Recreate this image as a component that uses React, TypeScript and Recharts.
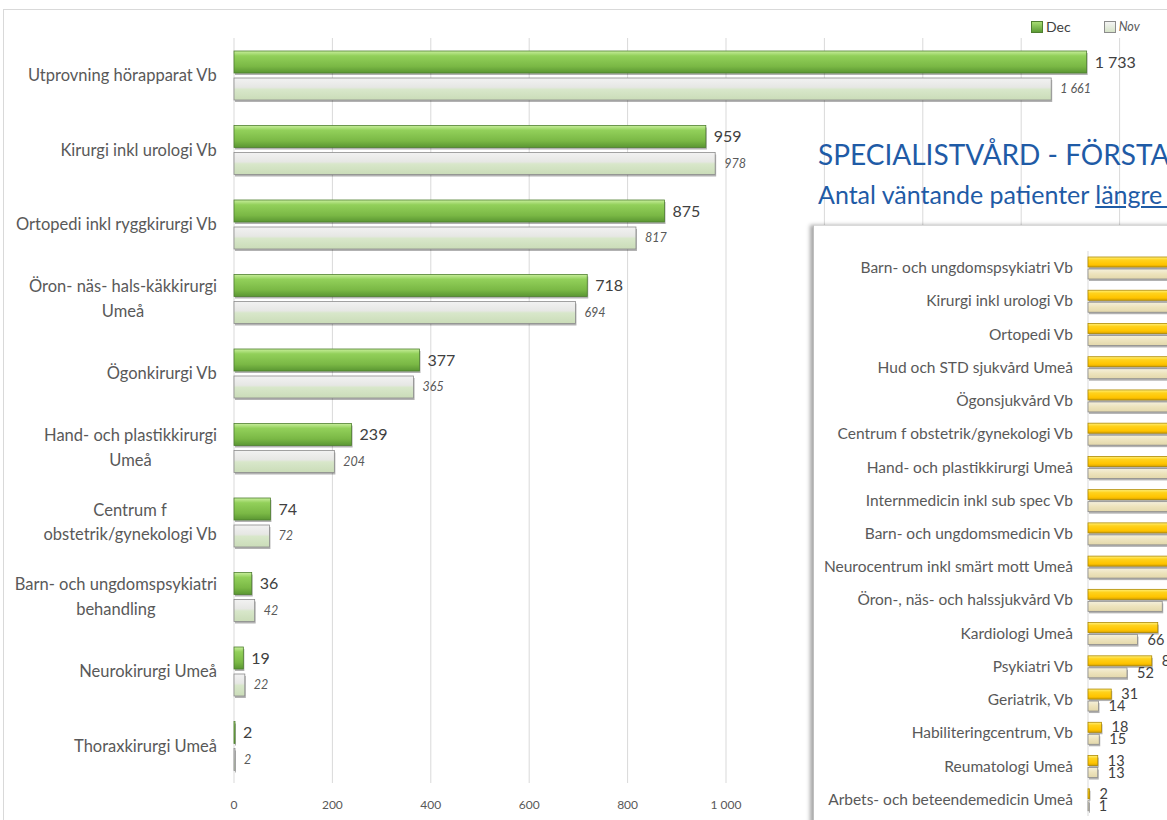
import React from "react";
import { BarChart, Bar, XAxis, YAxis, CartesianGrid, LabelList } from "recharts";

const mainCategories = [
  "Utprovning hörapparat Vb",
  "Kirurgi inkl urologi Vb",
  "Ortopedi inkl ryggkirurgi Vb",
  "Öron- näs- hals-käkkirurgi\nUmeå",
  "Ögonkirurgi Vb",
  "Hand- och plastikkirurgi\nUmeå",
  "Centrum f\nobstetrik/gynekologi Vb",
  "Barn- och ungdomspsykiatri\nbehandling",
  "Neurokirurgi Umeå",
  "Thoraxkirurgi Umeå",
];
const mainDec = [1733, 959, 875, 718, 377, 239, 74, 36, 19, 2];
const mainNov = [1661, 978, 817, 694, 365, 204, 72, 42, 22, 2];
const mainTicks = [0, 200, 400, 600, 800, 1000, 1200, 1400, 1600, 1800, 2000];

const sideCategories = [
  "Barn- och ungdomspsykiatri Vb",
  "Kirurgi inkl urologi Vb",
  "Ortopedi Vb",
  "Hud och STD sjukvård Umeå",
  "Ögonsjukvård Vb",
  "Centrum f obstetrik/gynekologi Vb",
  "Hand- och plastikkirurgi Umeå",
  "Internmedicin inkl sub spec Vb",
  "Barn- och ungdomsmedicin Vb",
  "Neurocentrum inkl smärt mott Umeå",
  "Öron-, näs- och halssjukvård Vb",
  "Kardiologi Umeå",
  "Psykiatri Vb",
  "Geriatrik, Vb",
  "Habiliteringcentrum, Vb",
  "Reumatologi Umeå",
  "Arbets- och beteendemedicin Umeå",
];
const sideDec = [520, 470, 430, 390, 350, 310, 280, 240, 200, 160, 118, 93, 85, 31, 18, 13, 2];
const sideNov = [500, 450, 420, 370, 330, 300, 260, 230, 190, 150, 99, 66, 52, 14, 15, 13, 1];
const sideTicks = [0, 100, 200, 300, 400, 500, 600];

const mainData = mainCategories.map((name, i) => ({ name, dec: mainDec[i], nov: mainNov[i] }));
const sideData = sideCategories.map((name, i) => ({ name, dec: sideDec[i], nov: sideNov[i] }));

const FONT = "Lato, 'Noto Sans', sans-serif";

const fmt = (v: any) => String(v).replace(/\B(?=(\d{3})+(?!\d))/g, " ");
// ticks past 1 000 sit under the second chart, so they get no text
const axisFmt = (v: any) => (Number(v) > 1000 ? "" : fmt(v));

let ctx: CanvasRenderingContext2D | null = null;
function measure(text: string, font: string) {
  if (!ctx) ctx = document.createElement("canvas").getContext("2d");
  if (!ctx) return text.length * 7;
  ctx.font = font;
  return ctx.measureText(text).width;
}

const MainTick = (props: any) => {
  const { x, y, payload } = props;
  const lines = String(payload.value).split("\n");
  const block = Math.max(...lines.map((l) => measure(l, "16.5px Lato")));
  const cx = x - block / 2;
  const lh = 24.5;
  const start = y - ((lines.length - 1) * lh) / 2;
  return (
    <text textAnchor="middle" fill="#595959" fontSize={16.5} fontFamily={FONT}>
      {lines.map((l, i) => (
        <tspan key={i} x={cx} y={start + i * lh} dy="0.35em">
          {l}
        </tspan>
      ))}
    </text>
  );
};

const Bar3D = (props: any) => {
  const { x, y, width, height, fill, stroke } = props;
  const w = Math.max(width, 1);
  return (
    <g>
      <rect x={x + 1} y={y + 2} width={w} height={height} fill="rgba(0,0,0,0.3)" />
      <rect x={x} y={y} width={w} height={height} fill={fill} stroke={stroke} strokeWidth={0.8} />
    </g>
  );
};

export default function App() {
  return (
    <div
      style={{
        position: "absolute",
        left: 0,
        top: 0,
        width: 1167,
        height: 820,
        overflow: "hidden",
        background: "#fff",
        fontFamily: FONT,
      }}
    >
      <div
        style={{
          position: "absolute",
          left: 3,
          top: 9,
          width: 1300,
          height: 900,
          border: "1px solid #d9d9d9",
        }}
      />
      <div style={{ position: "absolute", left: 0, top: 0 }}>
        <BarChart
          width={1240}
          height={830}
          data={mainData}
          layout="vertical"
          margin={{ top: 38, right: 22, bottom: 17, left: 0 }}
          barSize={22}
          barGap={5}
        >
          <defs>
            <linearGradient id="gDec" x1="0" y1="0" x2="0" y2="1">
              <stop offset="0%" stopColor="#c8ee9c" />
              <stop offset="22%" stopColor="#92d05a" />
              <stop offset="70%" stopColor="#7ab845" />
              <stop offset="100%" stopColor="#5a9632" />
            </linearGradient>
            <linearGradient id="gNov" x1="0" y1="0" x2="0" y2="1">
              <stop offset="0%" stopColor="#f2f2f2" />
              <stop offset="42%" stopColor="#e6e7e4" />
              <stop offset="52%" stopColor="#d8e7ca" />
              <stop offset="100%" stopColor="#cadcb8" />
            </linearGradient>
          </defs>
          <CartesianGrid horizontal={false} stroke="#d9d9d9" />
          <XAxis
            type="number"
            domain={[0, 2000]}
            ticks={mainTicks}
            tickFormatter={axisFmt}
            axisLine={false}
            tickLine={false}
            tickSize={0}
            tickMargin={17}
            height={30}
            tick={{ fill: "#595959", fontSize: 12, fontFamily: FONT }}
          />
          <YAxis
            type="category"
            dataKey="name"
            width={234}
            axisLine={false}
            tickLine={false}
            tickSize={0}
            tickMargin={17}
            interval={0}
            tick={<MainTick />}
          />
          <Bar dataKey="dec" fill="url(#gDec)" stroke="#4f7f30" shape={<Bar3D />} isAnimationActive={false}>
            <LabelList
              dataKey="dec"
              position="right"
              offset={8}
              formatter={fmt}
              fill="#404040"
              fontSize={16}
              fontFamily={FONT}
            />
          </Bar>
          <Bar dataKey="nov" fill="url(#gNov)" stroke="#8c8c8c" shape={<Bar3D />} isAnimationActive={false}>
            <LabelList
              dataKey="nov"
              position="right"
              offset={9}
              formatter={fmt}
              fill="#595959"
              fontSize={12.5}
              fontStyle="italic"
              fontFamily={FONT}
            />
          </Bar>
        </BarChart>
      </div>

      {/* legend */}
      <div style={{ position: "absolute", left: 1031, top: 18, display: "flex", alignItems: "center", fontSize: 14, color: "#404040" }}>
        <span
          style={{
            display: "inline-block",
            width: 10,
            height: 10,
            background: "linear-gradient(#a6dc72, #5c9c34)",
            border: "1px solid #4f7f30",
            marginRight: 3,
          }}
        />
        <span>Dec</span>
        <span
          style={{
            display: "inline-block",
            width: 10,
            height: 10,
            background: "linear-gradient(#f4f4f4, #d6e3c8)",
            border: "1px solid #8c8c8c",
            marginLeft: 33,
            marginRight: 3,
          }}
        />
        <span style={{ fontStyle: "italic", fontSize: 12.5, color: "#595959" }}>Nov</span>
      </div>

      {/* side chart title */}
      <div style={{ position: "absolute", left: 818, top: 137, color: "#1f5ba6", fontSize: 28, whiteSpace: "nowrap" }}>
        SPECIALISTVÅRD - FÖRSTA BESÖK
      </div>
      <div style={{ position: "absolute", left: 818, top: 179, color: "#1f5ba6", fontSize: 25, whiteSpace: "nowrap" }}>
        Antal väntande patienter <span style={{ textDecoration: "underline" }}>längre än 90 dagar</span>
      </div>

      {/* side chart */}
      <div
        style={{
          position: "absolute",
          left: 813,
          top: 225,
          width: 500,
          height: 700,
          background: "#fff",
          borderLeft: "1px solid #bfbfbf",
          borderTop: "1px solid #d9d9d9",
          boxShadow: "-3px 0 4px rgba(0,0,0,0.35)",
        }}
      >
        <BarChart
          width={734}
          height={630}
          data={sideData}
          layout="vertical"
          margin={{ top: 25, right: 10, bottom: 10, left: 0 }}
          barSize={10}
          barGap={2}
        >
          <defs>
            <linearGradient id="gYel" x1="0" y1="0" x2="0" y2="1">
              <stop offset="0%" stopColor="#fff07a" />
              <stop offset="30%" stopColor="#ffd21c" />
              <stop offset="75%" stopColor="#ffc400" />
              <stop offset="100%" stopColor="#d9a300" />
            </linearGradient>
            <linearGradient id="gBei" x1="0" y1="0" x2="0" y2="1">
              <stop offset="0%" stopColor="#f5f0dc" />
              <stop offset="50%" stopColor="#ede3bc" />
              <stop offset="100%" stopColor="#e3d8ac" />
            </linearGradient>
          </defs>
          <CartesianGrid horizontal={false} stroke="#d9d9d9" />
          <XAxis
            type="number"
            domain={[0, 600]}
            ticks={sideTicks}
            axisLine={false}
            tickLine={false}
            height={30}
            tick={false}
          />
          <YAxis
            type="category"
            dataKey="name"
            width={274}
            axisLine={false}
            tickLine={false}
            tickSize={0}
            tickMargin={15}
            interval={0}
            tick={{ fill: "#595959", fontSize: 15.5, fontFamily: FONT }}
          />
          <Bar dataKey="dec" fill="url(#gYel)" stroke="#b08a00" shape={<Bar3D />} isAnimationActive={false}>
            <LabelList dataKey="dec" position="right" offset={10} fill="#404040" fontSize={14.5} fontFamily={FONT} />
          </Bar>
          <Bar dataKey="nov" fill="url(#gBei)" stroke="#8c8c8c" shape={<Bar3D />} isAnimationActive={false}>
            <LabelList dataKey="nov" position="right" offset={10} fill="#404040" fontSize={14.5} fontFamily={FONT} />
          </Bar>
        </BarChart>
      </div>
    </div>
  );
}
